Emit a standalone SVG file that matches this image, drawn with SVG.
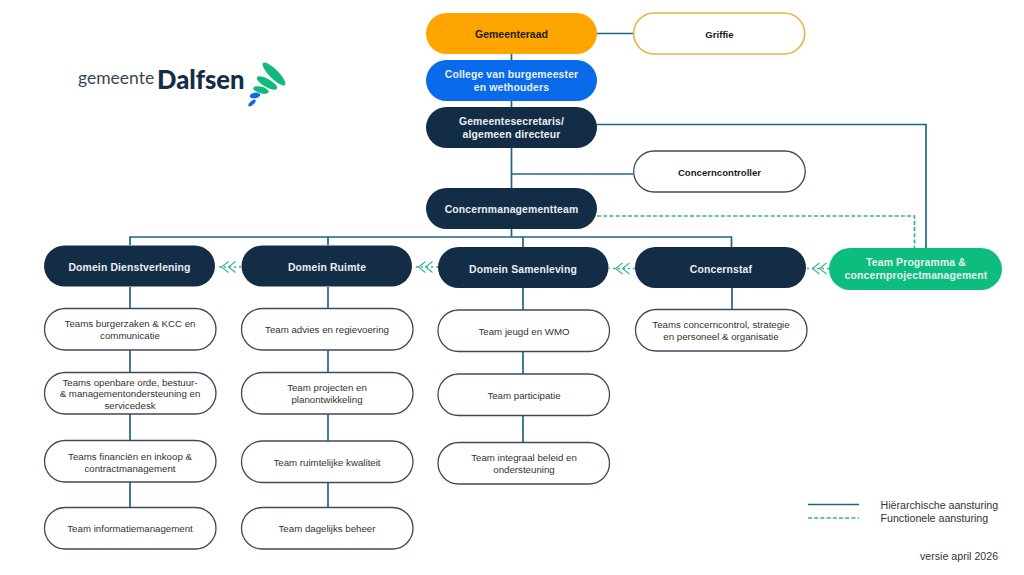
<svg xmlns="http://www.w3.org/2000/svg" width="1024" height="575" viewBox="0 0 1024 575">
<style>
text{font-family:"Liberation Sans",Arial,sans-serif;text-anchor:middle}
.w{fill:#fff;stroke:#3c4a5c;stroke-width:1.3}
.d{fill:#142d46}
.lb{font-size:10.4px;font-weight:700;fill:#e8edf1;letter-spacing:.15px}
.lk{font-size:9.6px;font-weight:700;fill:#1c1c1c}
.lt{font-size:9.7px;fill:#333}
.h{fill:none;stroke:#1f6586;stroke-width:1.7}
.f{fill:none;stroke:#35b48e;stroke-width:1.7;stroke-dasharray:4 2.2}
.fd{fill:none;stroke:#35b48e;stroke-width:1.6;stroke-dasharray:2 3}
.ch{fill:none;stroke:#35b48e;stroke-width:1.1}
.leg{font-size:10.65px;fill:#333;text-anchor:start}
</style>
<defs>
<path id="chev" d="M7 -5.500L0 0L7 5.500M14 -5.500L7 0L14 5.500"/>
</defs>
<rect width="1024" height="575" fill="#fff"/>
<g id="logo">
<text x="78" y="84" style="font-family:Lato,sans-serif;text-anchor:start;font-size:17.5px;fill:#3b4754">gemeente</text>
<text x="157" y="89" style="font-family:Lato,sans-serif;text-anchor:start;font-size:25.6px;font-weight:900;fill:#142d46">Dalfsen</text>
<ellipse cx="274" cy="74" rx="15.500" ry="4.600" transform="rotate(45 274 74)" fill="#12b97c"/>
<ellipse cx="267" cy="83" rx="11.500" ry="4" transform="rotate(30 267 83)" fill="#12b97c"/>
<ellipse cx="261" cy="90" rx="8" ry="3.300" transform="rotate(15 261 90)" fill="#12b97c"/>
<ellipse cx="255" cy="95.500" rx="5.300" ry="2.800" transform="rotate(-10 255 95.500)" fill="#0f6ae8"/>
<ellipse cx="252" cy="103" rx="4.500" ry="1.900" transform="rotate(-40 252 103)" fill="#0f6ae8"/>
</g>
<g id="connectors">
<path class="h" d="M597 33.500H633"/>
<path class="h" d="M511.500 54V60M511.500 100V107M511.500 148V188M511.500 174H633M511.500 229V237"/>
<path class="h" d="M597 124.500H926V248"/>
<path class="h" d="M130 245V237H731.500V247M328 237V245M523 237V247"/>
<path class="h" d="M130 287V308M130 350V372M130 414V440M130 482V507"/>
<path class="h" d="M328 287V308M328 350V372M328 414V441M328 483V507"/>
<path class="h" d="M523 288V310M523 352V374M523 416V442"/>
<path class="h" d="M732 288V309"/>
<path class="f" d="M597 216H914.500V248"/>
<path class="fd" d="M829 268.500H807"/>
<path class="fd" d="M635 268.500H609"/>
<path class="fd" d="M438 267H413"/>
<path class="fd" d="M241 267H216"/>
<use href="#chev" class="ch" x="812.500" y="268.500"/>
<use href="#chev" class="ch" x="615.500" y="268.500"/>
<use href="#chev" class="ch" x="418.500" y="267"/>
<use href="#chev" class="ch" x="221.500" y="267"/>
</g>
<g id="gemeenteraad"><rect x="426" y="13" width="171" height="41" rx="20.500" fill="#ffa500"/><text class="lk" x="511.500" y="37.500" style="font-size:10.500px">Gemeenteraad</text></g>
<g id="griffie"><rect x="633.700" y="13" width="171" height="41" rx="20.500" fill="#fff" stroke="#e9b13f" stroke-width="1.6"/><text class="lk" x="719.500" y="37.500">Griffie</text></g>
<g id="college"><rect x="426" y="60" width="171" height="41" rx="20.500" fill="#0a6bea"/><text class="lb" x="511.500" y="78">College van burgemeester</text><text class="lb" x="511.500" y="91">en wethouders</text></g>
<g id="gemeentesecretaris"><rect class="d" x="426" y="107" width="171" height="41" rx="20.500"/><text class="lb" x="511.500" y="125">Gemeentesecretaris/</text><text class="lb" x="511.500" y="138">algemeen directeur</text></g>
<g id="concerncontroller"><rect class="w" x="633.700" y="151" width="171.500" height="41" rx="20.500"/><text class="lk" x="719.500" y="175.500">Concerncontroller</text></g>
<g id="concernmanagementteam"><rect class="d" x="426" y="188" width="171" height="41" rx="20.500"/><text class="lb" x="511.500" y="213">Concernmanagementteam</text></g>
<g id="domein-dienstverlening"><rect class="d" x="44" y="245.500" width="171" height="41" rx="20.500"/><text class="lb" x="129.500" y="271">Domein Dienstverlening</text></g>
<g id="domein-ruimte"><rect class="d" x="241.500" y="245.500" width="170.500" height="41" rx="20.500"/><text class="lb" x="327" y="271">Domein Ruimte</text></g>
<g id="domein-samenleving"><rect class="d" x="438" y="247" width="170.500" height="41" rx="20.500"/><text class="lb" x="523" y="272.500">Domein Samenleving</text></g>
<g id="concernstaf"><rect class="d" x="635" y="247" width="171" height="41" rx="20.500"/><text class="lb" x="721" y="272.500">Concernstaf</text></g>
<g id="team-programma"><rect x="829" y="248" width="173" height="42" rx="21" fill="#0cbd7d"/><text class="lb" x="916" y="266">Team Programma &amp;</text><text class="lb" x="916" y="279">concernprojectmanagement</text></g>
<g id="t11"><rect class="w" x="44.500" y="308.500" width="171.500" height="41.500" rx="20.700"/><text class="lt" x="130" y="327">Teams burgerzaken &amp; KCC en</text><text class="lt" x="130" y="339">communicatie</text></g>
<g id="t12"><rect class="w" x="44.500" y="372.500" width="171.500" height="41.500" rx="20.700"/><text class="lt" x="130" y="385.500">Teams openbare orde, bestuur-</text><text class="lt" x="130" y="397">&amp; managementondersteuning en</text><text class="lt" x="130" y="408.500">servicedesk</text></g>
<g id="t13"><rect class="w" x="44.500" y="440.500" width="171.500" height="41.500" rx="20.700"/><text class="lt" x="130" y="460">Teams financiën en inkoop &amp;</text><text class="lt" x="130" y="471.500">contractmanagement</text></g>
<g id="t14"><rect class="w" x="44.500" y="507.500" width="171.500" height="41.500" rx="20.700"/><text class="lt" x="130" y="532">Team informatiemanagement</text></g>
<g id="t21"><rect class="w" x="241.500" y="308.500" width="171.500" height="41.500" rx="20.700"/><text class="lt" x="327" y="333">Team advies en regievoering</text></g>
<g id="t22"><rect class="w" x="241.500" y="372.500" width="171.500" height="41.500" rx="20.700"/><text class="lt" x="327" y="391">Team projecten en</text><text class="lt" x="327" y="403">planontwikkeling</text></g>
<g id="t23"><rect class="w" x="241.500" y="441" width="171.500" height="41.500" rx="20.700"/><text class="lt" x="327" y="465.500">Team ruimtelijke kwaliteit</text></g>
<g id="t24"><rect class="w" x="241.500" y="507.500" width="171.500" height="41.500" rx="20.700"/><text class="lt" x="327" y="532">Team dagelijks beheer</text></g>
<g id="t31"><rect class="w" x="438" y="310" width="171.500" height="41.500" rx="20.700"/><text class="lt" x="524" y="334.500">Team jeugd en WMO</text></g>
<g id="t32"><rect class="w" x="438" y="374" width="171.500" height="41.500" rx="20.700"/><text class="lt" x="524" y="398.500">Team participatie</text></g>
<g id="t33"><rect class="w" x="438" y="442.500" width="171.500" height="41.500" rx="20.700"/><text class="lt" x="524" y="461">Team integraal beleid en</text><text class="lt" x="524" y="473">ondersteuning</text></g>
<g id="t41"><rect class="w" x="635.500" y="309.500" width="171.500" height="41.500" rx="20.700"/><text class="lt" x="721" y="328">Teams concerncontrol, strategie</text><text class="lt" x="721" y="340">en personeel &amp; organisatie</text></g>
<g id="legend">
<path class="h" d="M808 504.500H859"/>
<path class="f" d="M808 518H859"/>
<text class="leg" x="880.500" y="508.500">Hiërarchische aansturing</text>
<text class="leg" x="880.500" y="521.500">Functionele aansturing</text>
<text class="leg" x="920" y="559.500">versie april 2026</text>
</g>
</svg>
